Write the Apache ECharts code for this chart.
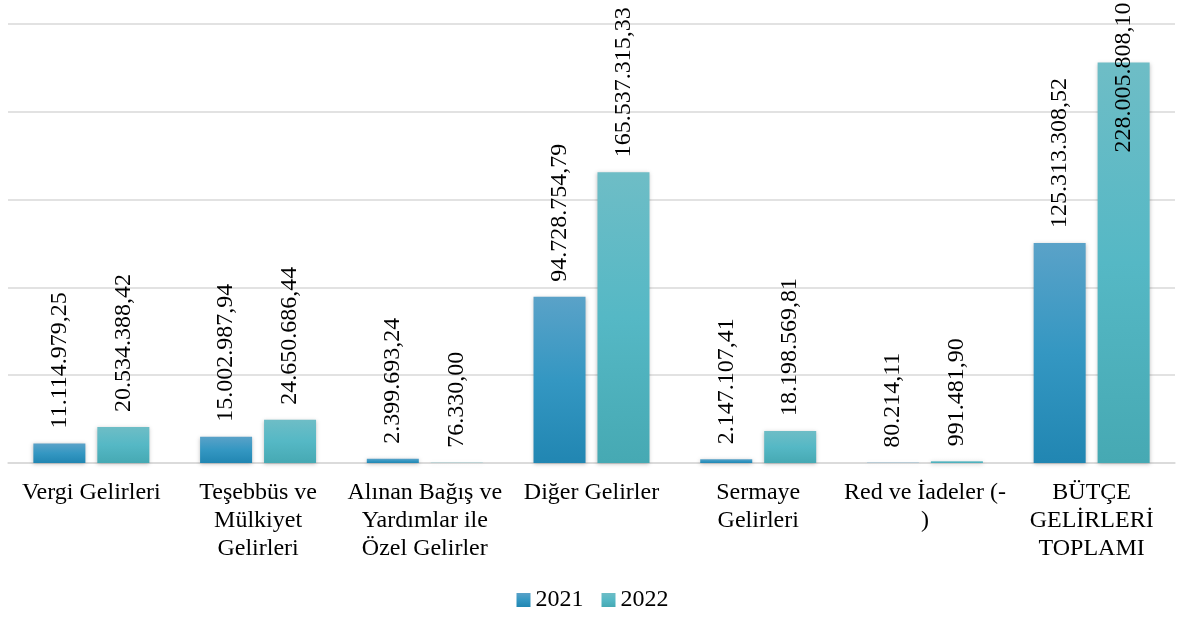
<!DOCTYPE html>
<html>
<head>
<meta charset="utf-8">
<script src="https://cdn.jsdelivr.net/npm/echarts@6/dist/echarts.min.js"></script>
<style>
    html, body { margin: 0; padding: 0; background: #fff; }
    #chart { width: 1185px; height: 617px; }
</style>
</head>
<body>
<div id="chart"></div>
<script>
var categories = [
    'Vergi Gelirleri',
    'Teşebbüs ve\nMülkiyet\nGelirleri',
    'Alınan Bağış ve\nYardımlar ile\nÖzel Gelirler',
    'Diğer Gelirler',
    'Sermaye\nGelirleri',
    'Red ve İadeler (-\n)',
    'BÜTÇE\nGELİRLERİ\nTOPLAMI'
];
var values2021 = [11114979.25, 15002987.94, 2399693.24, 94728754.79, 2147107.41, 80214.11, 125313308.52];
var values2022 = [20534388.42, 24650686.44, 76330.00, 165537315.33, 18198569.81, 991481.90, 228005808.10];

// turkish number style: 1.234.567,89
function formatTR(x) {
    var parts = x.toFixed(2).split('.');
    return parts[0].replace(/\B(?=(\d{3})+(?!\d))/g, '.') + ',' + parts[1];
}

var fontFam = '"Liberation Serif", "Times New Roman", serif';

var labelStyle = {
    show: true,
    position: 'top',
    rotate: 90,
    align: 'left',
    verticalAlign: 'middle',
    distance: 15,
    fontFamily: fontFam,
    fontSize: 24,
    color: '#000',
    formatter: function (p) { return formatTR(p.value); }
};

function buildData(vals) {
    return vals.map(function (v) {
        // the tallest label is pushed down into the bar so it fits
        if (v > 200000000) {
            return { value: v, label: { distance: -90 } };
        }
        return v;
    });
}

var grad2021 = new echarts.graphic.LinearGradient(0, 0, 0, 1, [
    { offset: 0, color: '#5aa2c8' },
    { offset: 0.5, color: '#3497c2' },
    { offset: 1, color: '#2186b2' }
]);
var grad2022 = new echarts.graphic.LinearGradient(0, 0, 0, 1, [
    { offset: 0, color: '#6ebdc6' },
    { offset: 0.5, color: '#55b8c5' },
    { offset: 1, color: '#46a9b3' }
]);

var myChart = echarts.init(document.getElementById('chart'));

var option = {
    animation: false,
    backgroundColor: '#fff',
    grid: {
        left: 8,
        right: 10,
        top: 24,
        bottom: 154
    },
    legend: {
        bottom: 0,
        left: 'center',
        icon: 'rect',
        itemWidth: 14,
        itemHeight: 14,
        itemGap: 18,
        textStyle: {
            fontFamily: fontFam,
            fontSize: 24,
            color: '#000'
        },
        data: ['2021', '2022']
    },
    xAxis: {
        type: 'category',
        data: categories,
        axisTick: { show: false },
        axisLine: { lineStyle: { color: '#d9d9d9', width: 1.5 } },
        axisLabel: {
            interval: 0,
            margin: 16,
            fontFamily: fontFam,
            fontSize: 24,
            lineHeight: 28,
            color: '#000',
            align: 'center'
        }
    },
    yAxis: {
        type: 'value',
        min: 0,
        max: 250000000,
        interval: 50000000,
        axisLabel: { show: false },
        axisLine: { show: false },
        axisTick: { show: false },
        splitLine: { lineStyle: { color: '#d9d9d9', width: 1.5 } }
    },
    series: [
        {
            name: '2021',
            type: 'bar',
            barWidth: 52,
            barGap: '23%',
            data: buildData(values2021),
            label: labelStyle,
            itemStyle: {
                color: grad2021,
                shadowBlur: 4,
                shadowColor: 'rgba(0,0,0,0.25)',
                shadowOffsetY: 1
            }
        },
        {
            name: '2022',
            type: 'bar',
            barWidth: 52,
            data: buildData(values2022),
            label: labelStyle,
            itemStyle: {
                color: grad2022,
                shadowBlur: 4,
                shadowColor: 'rgba(0,0,0,0.25)',
                shadowOffsetY: 1
            }
        }
    ]
};

myChart.setOption(option);
</script>
</body>
</html>
